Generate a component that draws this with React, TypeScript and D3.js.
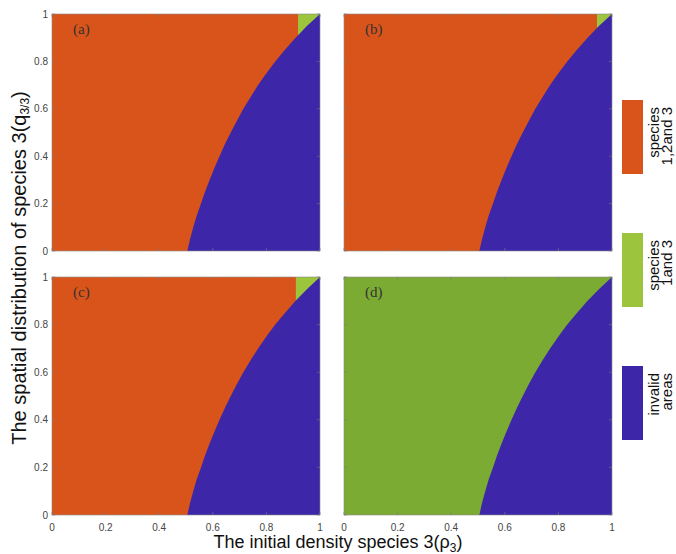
import React from "react";
import * as d3 from "d3";

// Boundary of the invalid (blue) region: for each q, the rho where it starts
const qLevels = [0, 0.05, 0.1, 0.15, 0.2, 0.25, 0.3, 0.35, 0.4, 0.45, 0.5, 0.55, 0.6, 0.65, 0.7, 0.75, 0.8, 0.85, 0.9, 0.95, 1.0];
const boundaryRho = [0.505, 0.515, 0.527, 0.54, 0.556, 0.571, 0.588, 0.606, 0.625, 0.645, 0.667, 0.69, 0.714, 0.741, 0.769, 0.8, 0.833, 0.87, 0.909, 0.952, 1.0];

const panelNames = ["(a)", "(b)", "(c)", "(d)"];
// rho from which the region above the boundary is "species 1 and 3"
const greenStart = [0.918, 0.944, 0.91, 0.0];

const tickValues = [0, 0.2, 0.4, 0.6, 0.8, 1];
const tickLabels = ["0", "0.2", "0.4", "0.6", "0.8", "1"];

const legendLabels = [
  ["species", "1,2and 3"],
  ["species", "1and 3"],
  ["invalid", "areas"],
];

const ORANGE = "#D9541A";
const BLUE = "#3D27A8";
const GREEN_LIGHT = "#9CC43C";
const GREEN_D = "#7BAB32";
const legendColors = [ORANGE, GREEN_LIGHT, BLUE];

const panels = [
  { x0: 52, x1: 320, y0: 14, y1: 251, showX: false, showY: true },
  { x0: 344, x1: 612, y0: 14, y1: 251, showX: false, showY: false },
  { x0: 52, x1: 320, y0: 277, y1: 515, showX: true, showY: true },
  { x0: 344, x1: 612, y0: 277, y1: 515, showX: true, showY: false },
];

const FONT = "'Liberation Sans', Arial, Helvetica, sans-serif";

function Panel({ idx }: { idx: number }) {
  const p = panels[idx];
  const x = d3.scaleLinear().domain([0, 1]).range([p.x0, p.x1]);
  const y = d3.scaleLinear().domain([0, 1]).range([p.y1, p.y0]);
  const pts: [number, number][] = qLevels.map((q, i) => [boundaryRho[i], q]);
  pts.push([1, 1], [1, 0]);
  const line = d3
    .line<[number, number]>()
    .x((d) => x(d[0]))
    .y((d) => y(d[1]));
  const blueD = line(pts) + "Z";
  const g = greenStart[idx];
  const isD = idx === 3;
  const tl = 3;
  return (
    <g>
      <rect x={x(0)} y={y(1)} width={x(1) - x(0)} height={y(0) - y(1)} fill={ORANGE} />
      <rect
        x={x(g)}
        y={y(1)}
        width={x(1) - x(g)}
        height={y(0) - y(1)}
        fill={isD ? GREEN_D : GREEN_LIGHT}
      />
      <path d={blueD} fill={BLUE} />
      <rect
        x={x(0)}
        y={y(1)}
        width={x(1) - x(0)}
        height={y(0) - y(1)}
        fill="none"
        stroke="#8a8a8a"
        strokeWidth={0.6}
      />
      {tickValues.map((t, i) => (
        <g key={i} stroke="#7a7a7a" strokeWidth={0.6}>
          <line x1={x(t)} x2={x(t)} y1={y(0)} y2={y(0) - tl} />
          <line x1={x(t)} x2={x(t)} y1={y(1)} y2={y(1) + tl} />
          <line x1={x(0)} x2={x(0) + tl} y1={y(t)} y2={y(t)} />
          <line x1={x(1)} x2={x(1) - tl} y1={y(t)} y2={y(t)} />
        </g>
      ))}
      {p.showX &&
        tickValues.map((t, i) => (
          <text
            key={"xl" + i}
            x={x(t)}
            y={y(0) + 16}
            textAnchor="middle"
            fontSize={10}
            fill="#444"
            fontFamily={FONT}
          >
            {tickLabels[i]}
          </text>
        ))}
      {p.showY &&
        tickValues.map((t, i) => (
          <text
            key={"yl" + i}
            x={x(0) - 4}
            y={y(t) + 3.5}
            textAnchor="end"
            fontSize={10}
            fill="#444"
            fontFamily={FONT}
          >
            {tickLabels[i]}
          </text>
        ))}
      <text
        x={x(0) + 21}
        y={y(1) + 20}
        fontSize={15}
        fill="#333"
        fontFamily="'Liberation Serif', 'DejaVu Serif', serif"
      >
        {panelNames[idx]}
      </text>
    </g>
  );
}

export default function App() {
  const legendTops = [100, 233, 366];
  const legendH = 74;
  return (
    <svg width={676} height={554} style={{ position: "absolute", left: 0, top: 0 }}>
      <rect width={676} height={554} fill="#fff" />
      {panels.map((_, i) => (
        <Panel key={i} idx={i} />
      ))}
      {legendTops.map((top, i) => (
        <g key={i}>
          <rect x={622} y={top} width={21} height={legendH} fill={legendColors[i]} />
          <text
            transform={`translate(659,${top + 7}) rotate(-90)`}
            textAnchor="end"
            fontSize={15}
            fill="#111"
            fontFamily={FONT}
          >
            {legendLabels[i][0]}
          </text>
          <text
            transform={`translate(672,${top + 7}) rotate(-90)`}
            textAnchor="end"
            fontSize={15}
            fill="#111"
            fontFamily={FONT}
          >
            {legendLabels[i][1]}
          </text>
        </g>
      ))}
      <text
        transform="translate(26,268) rotate(-90)"
        textAnchor="middle"
        fontSize={20}
        fill="#111"
        fontFamily={FONT}
      >
        The spatial distribution of species 3(q
        <tspan fontSize={12} dy={3}>3/3</tspan>
        <tspan dy={-3}>)</tspan>
      </text>
      <text x={338} y={548} textAnchor="middle" fontSize={18} fill="#111" fontFamily={FONT}>
        The initial density species 3(ρ
        <tspan fontSize={12} dy={4}>3</tspan>
        <tspan dy={-4}>)</tspan>
      </text>
    </svg>
  );
}
